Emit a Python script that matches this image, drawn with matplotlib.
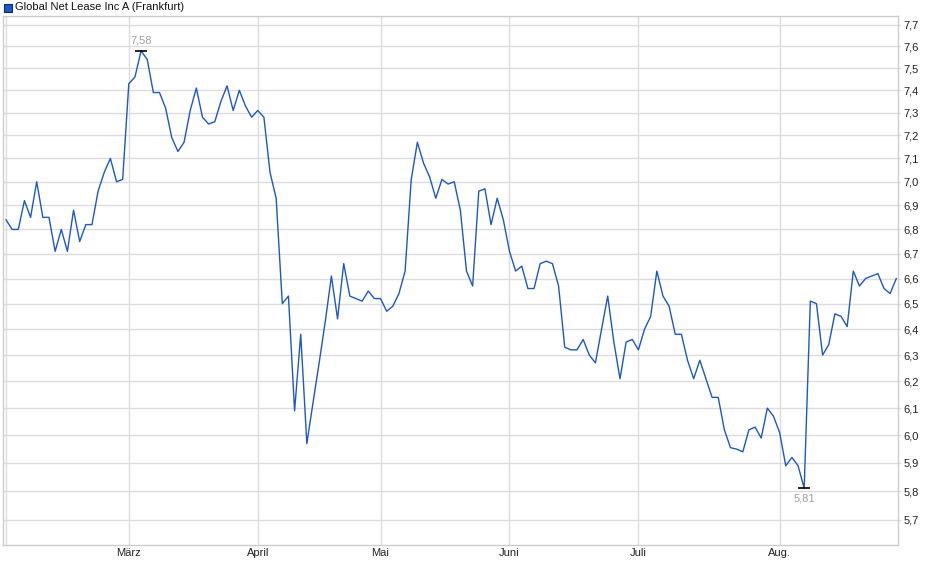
import matplotlib
matplotlib.use("Agg")
import matplotlib.pyplot as plt
from matplotlib.patches import Rectangle
from matplotlib.ticker import FixedLocator, NullLocator

plt.rcParams['font.family'] = ['Liberation Sans', 'DejaVu Sans']

# Schlusskurse (EUR), ein Wert pro Handelstag, Feb. bis Ende Aug.
kurse = [
    6.84, 6.80, 6.80, 6.92, 6.85, 7.00, 6.85, 6.85, 6.71, 6.80,
    6.71, 6.88, 6.75, 6.82, 6.82, 6.96, 7.04, 7.10, 7.00, 7.01,
    7.43, 7.46, 7.58, 7.54, 7.39, 7.39, 7.32, 7.19, 7.13, 7.17,
    7.31, 7.41, 7.28, 7.25, 7.26, 7.35, 7.42, 7.31, 7.40, 7.33,
    7.28, 7.31, 7.28, 7.04, 6.93, 6.50, 6.53, 6.09, 6.38, 5.97,
    6.12, 6.27, 6.43, 6.61, 6.44, 6.66, 6.53, 6.52, 6.51, 6.55,
    6.52, 6.52, 6.47, 6.49, 6.54, 6.63, 7.01, 7.17, 7.08, 7.02,
    6.93, 7.01, 6.99, 7.00, 6.88, 6.63, 6.57, 6.96, 6.97, 6.82,
    6.93, 6.84, 6.71, 6.63, 6.65, 6.56, 6.56, 6.66, 6.67, 6.66,
    6.57, 6.33, 6.32, 6.32, 6.36, 6.30, 6.27, 6.40, 6.53, 6.35,
    6.21, 6.35, 6.36, 6.32, 6.40, 6.45, 6.63, 6.53, 6.49, 6.38,
    6.38, 6.28, 6.21, 6.28, 6.21, 6.14, 6.14, 6.02, 5.955, 5.95,
    5.94, 6.02, 6.03, 5.99, 6.10, 6.07, 6.01, 5.89, 5.92, 5.89,
    5.81, 6.51, 6.50, 6.30, 6.34, 6.46, 6.45, 6.41, 6.63, 6.57,
    6.60, 6.61, 6.62, 6.56, 6.54, 6.60,
]
tage = list(range(len(kurse)))

# erster Handelstag je Monat (Index)
monat_idx = [20, 41, 61, 82, 103, 126]
monat_namen = ["März", "April", "Mai", "Juni", "Juli", "Aug."]

y_ticks = [5.7, 5.8, 5.9, 6.0, 6.1, 6.2, 6.3, 6.4, 6.5, 6.6, 6.7,
           6.8, 6.9, 7.0, 7.1, 7.2, 7.3, 7.4, 7.5, 7.6, 7.7]

titel = "Global Net Lease Inc A (Frankfurt)"
farbe = "#1c58c6"
grid_farbe = "#dcdcdc"

W, H = 940, 579
fig = plt.figure(figsize=(W / 100, H / 100), dpi=100)
ax = fig.add_axes([3 / W, 1 - 545 / H, 895 / W, 529 / H])

ax.plot(tage, kurse, color=farbe, lw=1.0, zorder=3)

ax.set_yscale("log")
ax.set_ylim(5.613, 7.742)
ax.set_xlim(-0.49, 145.28)

ax.yaxis.set_major_locator(FixedLocator(y_ticks))
ax.yaxis.set_minor_locator(NullLocator())
ax.set_yticklabels([f"{v:.1f}".replace(".", ",") for v in y_ticks])
ax.yaxis.tick_right()
ax.tick_params(axis="y", length=2, color=grid_farbe, labelsize=8, pad=2,
               labelcolor="#222222")

ax.xaxis.set_major_locator(FixedLocator(monat_idx))
ax.set_xticklabels(monat_namen)
ax.xaxis.set_minor_locator(FixedLocator([0]))
ax.tick_params(axis="x", which="both", length=0, labelsize=8, pad=2,
               labelcolor="#222222")

ax.grid(True, which="major", color=grid_farbe, lw=1)
ax.grid(True, which="minor", axis="x", color=grid_farbe, lw=1)
ax.set_axisbelow(True)
for s in ax.spines.values():
    s.set_color("#cccccc")
    s.set_linewidth(1)

# Hoch- und Tiefpunkt markieren
i_max = kurse.index(max(kurse))
i_min = kurse.index(min(kurse))
for i, dy, va in [(i_max, 4, "bottom"), (i_min, -4, "top")]:
    ax.plot(tage[i], kurse[i], marker="_", ms=9, mew=1.2, color="black",
            zorder=4)
    ax.annotate(f"{kurse[i]:.2f}".replace(".", ","), (tage[i], kurse[i]),
                xytext=(0, dy), textcoords="offset points", ha="center",
                va=va, fontsize=8, color="#a0a0a0")

# Legende oben links
fig.patches.append(Rectangle((4 / W, 1 - 12 / H), 8 / W, 8 / H,
                             transform=fig.transFigure, facecolor=farbe,
                             edgecolor="#0b2a66", lw=0.8))
fig.text(15 / W, 1 - 7.5 / H, titel, fontsize=8, va="center", ha="left",
         color="#111111")

fig.savefig("out.png", dpi=100)
